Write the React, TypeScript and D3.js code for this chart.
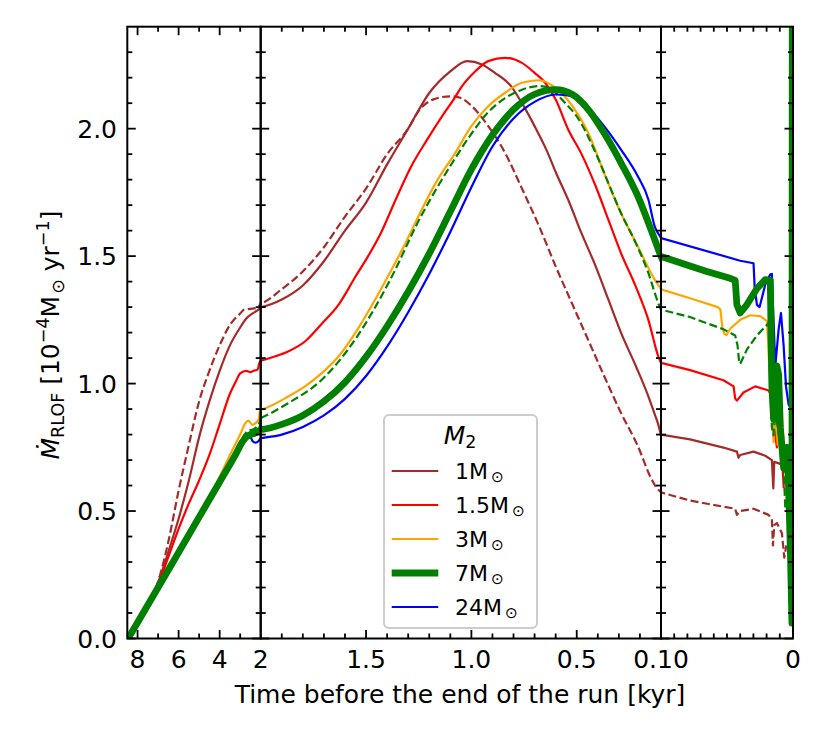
import React from "react";
import * as d3 from "d3";

type Pt = [number, number];

// ---- data: [time before end of run (kyr), Mdot (1e-4 Msun/yr)] ----
const m1Solid: Pt[] = [
  [8.46, 0], [8.0, 0.063], [7.5, 0.13], [7.2, 0.18], [7.0, 0.22], [6.5, 0.34], [6.0, 0.47], [5.5, 0.62],
  [5.0, 0.79], [4.5, 0.93], [4.0, 1.05], [3.5, 1.15], [3.0, 1.22], [2.7, 1.255], [2.4, 1.275], [2.2, 1.285],
  [2.0, 1.3], [1.9, 1.33], [1.8, 1.385], [1.7, 1.48], [1.6, 1.6], [1.5, 1.71], [1.4, 1.86], [1.3, 2.0],
  [1.2, 2.14], [1.1, 2.225], [1.02, 2.265], [0.95, 2.252], [0.89, 2.22], [0.81, 2.165], [0.76, 2.1],
  [0.7, 2.01], [0.64, 1.91], [0.6, 1.83], [0.54, 1.72], [0.48, 1.595], [0.41, 1.46], [0.35, 1.33],
  [0.29, 1.2], [0.22, 1.07], [0.16, 0.95], [0.13, 0.88], [0.113, 0.84], [0.1, 0.8],
  [0.078, 0.781], [0.0527, 0.749], [0.0425, 0.733], [0.0413, 0.709], [0.04, 0.72], [0.0299, 0.733],
  [0.021, 0.717], [0.016, 0.7], [0.0149, 0.589], [0.0142, 0.693], [0.0096, 0.685], [0.0071, 0.677],
  [0.0046, 0.669], [0.0033, 0.573],
];
const m1Dashed: Pt[] = [
  [8.46, 0], [8.0, 0.063], [7.5, 0.13], [7.2, 0.18], [6.9, 0.25], [6.5, 0.38], [6.0, 0.58], [5.5, 0.76],
  [5.0, 0.93], [4.5, 1.05], [4.0, 1.15], [3.5, 1.23], [3.0, 1.275], [2.8, 1.29], [2.5, 1.293], [2.2, 1.297],
  [2.0, 1.315], [1.9, 1.37], [1.8, 1.44], [1.7, 1.535], [1.6, 1.655], [1.5, 1.765], [1.4, 1.9], [1.3, 2.0],
  [1.25, 2.07], [1.18, 2.115], [1.1, 2.127], [1.05, 2.12], [1.0, 2.09], [0.92, 2.01], [0.84, 1.905],
  [0.76, 1.765], [0.68, 1.62], [0.6, 1.46], [0.52, 1.31], [0.445, 1.17], [0.37, 1.03], [0.29, 0.885],
  [0.21, 0.755], [0.145, 0.625], [0.12, 0.59], [0.1, 0.573],
  [0.078, 0.541], [0.0527, 0.517], [0.0438, 0.509], [0.0425, 0.485], [0.04, 0.5], [0.0299, 0.509],
  [0.0185, 0.485], [0.016, 0.469], [0.0152, 0.365], [0.0142, 0.445], [0.0122, 0.453], [0.0084, 0.413],
  [0.0066, 0.317], [0.0051, 0.365],
];
const m15: Pt[] = [
  [8.46, 0], [8.0, 0.063], [7.5, 0.13], [7.2, 0.175], [7.0, 0.21], [6.5, 0.32], [6.0, 0.43], [5.5, 0.53],
  [5.0, 0.62], [4.5, 0.72], [4.0, 0.84], [3.5, 0.96], [3.2, 1.01], [3.0, 1.04], [2.7, 1.05], [2.5, 1.045],
  [2.35, 1.05], [2.15, 1.055], [2.07, 1.08], [2.0, 1.09], [1.93, 1.107], [1.87, 1.126], [1.79, 1.165],
  [1.71, 1.235], [1.63, 1.31], [1.55, 1.42], [1.49, 1.5], [1.43, 1.59], [1.36, 1.72], [1.29, 1.845],
  [1.21, 1.957], [1.13, 2.06], [1.08, 2.12], [1.05, 2.16], [0.98, 2.226], [0.92, 2.265], [0.84, 2.278],
  [0.76, 2.258], [0.7, 2.219], [0.65, 2.18], [0.6, 2.114], [0.54, 1.996], [0.48, 1.905], [0.41, 1.774],
  [0.35, 1.643], [0.29, 1.512], [0.22, 1.381], [0.16, 1.25], [0.113, 1.107], [0.1, 1.081],
  [0.078, 1.053], [0.0527, 1.013], [0.045, 0.989], [0.0438, 0.941], [0.0425, 0.933], [0.0375, 0.965],
  [0.0286, 0.989], [0.0185, 0.973], [0.016, 0.949], [0.0142, 0.83], [0.0122, 0.75], [0.0096, 0.83],
  [0.007, 0.59],
];
const m3: Pt[] = [
  [8.46, 0], [8.0, 0.063], [7.0, 0.2], [6.0, 0.34], [5.0, 0.48], [4.2, 0.6], [3.5, 0.72], [3.0, 0.8],
  [2.75, 0.845], [2.6, 0.855], [2.4, 0.838], [2.25, 0.845], [2.1, 0.86], [2.04, 0.89], [2.0, 0.897],
  [1.87, 0.949], [1.79, 0.989], [1.71, 1.041], [1.63, 1.107], [1.55, 1.2], [1.47, 1.31], [1.39, 1.43],
  [1.31, 1.555], [1.24, 1.675], [1.16, 1.8], [1.08, 1.9], [1.0, 2.01], [0.92, 2.088], [0.84, 2.141],
  [0.76, 2.18], [0.68, 2.19], [0.6, 2.16], [0.52, 2.088], [0.445, 1.983], [0.37, 1.826], [0.29, 1.669],
  [0.21, 1.538], [0.13, 1.408], [0.1, 1.37],
  [0.078, 1.335], [0.057, 1.3], [0.055, 1.29], [0.0535, 1.22], [0.052, 1.195], [0.0505, 1.19],
  [0.0476, 1.215], [0.04, 1.25], [0.0324, 1.268], [0.0248, 1.265], [0.0197, 1.245], [0.0172, 0.99],
  [0.0147, 0.77], [0.013, 0.9], [0.0116, 0.76], [0.0096, 0.95], [0.0058, 0.685], [0.0046, 0.58],
];
const m7Dashed: Pt[] = [
  [8.46, 0], [8.0, 0.063], [7.0, 0.2], [6.0, 0.338], [5.0, 0.476], [4.0, 0.614], [3.0, 0.765],
  [2.86, 0.79], [2.6, 0.815], [2.37, 0.82], [2.2, 0.83], [2.05, 0.85], [2.0, 0.865],
  [1.87, 0.923], [1.71, 1.015], [1.55, 1.175], [1.39, 1.4], [1.24, 1.655], [1.08, 1.88], [1.0, 1.98],
  [0.92, 2.065], [0.84, 2.12], [0.76, 2.153], [0.68, 2.167], [0.62, 2.155], [0.57, 2.114], [0.49, 2.036],
  [0.41, 1.905], [0.35, 1.787], [0.29, 1.669], [0.22, 1.552], [0.16, 1.434], [0.113, 1.316], [0.1, 1.29],
  [0.078, 1.261], [0.0527, 1.213], [0.0438, 1.189], [0.042, 1.149], [0.0408, 1.085], [0.04, 1.077],
  [0.035, 1.133], [0.0273, 1.189], [0.0185, 1.237], [0.0172, 0.989], [0.016, 0.829], [0.0147, 0.797],
  [0.0134, 0.893], [0.0071, 0.669], [0.0058, 0.509], [0.0046, 0.541],
];
const m7Solid: Pt[] = [
  [8.46, 0], [8.0, 0.063], [7.0, 0.2], [6.0, 0.338], [5.0, 0.476], [4.0, 0.614], [3.2, 0.725], [2.9, 0.77],
  [2.7, 0.79], [2.5, 0.8], [2.3, 0.805], [2.15, 0.812], [2.0, 0.819],
  [1.9, 0.84], [1.8, 0.875], [1.7, 0.93], [1.6, 1.005], [1.5, 1.105], [1.4, 1.225], [1.3, 1.36],
  [1.2, 1.51], [1.1, 1.675], [1.0, 1.84], [0.9, 1.975], [0.8, 2.075], [0.7, 2.135], [0.6, 2.153],
  [0.52, 2.134], [0.445, 2.075], [0.37, 1.983], [0.29, 1.866], [0.21, 1.735], [0.13, 1.565], [0.1, 1.499],
  [0.078, 1.461], [0.0653, 1.44], [0.0476, 1.413], [0.0438, 1.405], [0.0425, 1.309], [0.04, 1.277],
  [0.035, 1.309], [0.0273, 1.373], [0.021, 1.408], [0.0172, 1.405], [0.016, 0.989], [0.0147, 0.861],
  [0.0122, 1.069], [0.0109, 1.037], [0.0096, 0.829], [0.0071, 0.669], [0.0046, 0.75], [0.0033, 0.589],
  [0.002, 0.349], [0.0008, 0.06], [0.0005, 3.0],
];
const m24: Pt[] = [
  [8.46, 0], [8.0, 0.063], [7.0, 0.2], [6.0, 0.338], [5.0, 0.476], [4.0, 0.614], [3.2, 0.725], [2.9, 0.77],
  [2.7, 0.785], [2.5, 0.79], [2.4, 0.775], [2.25, 0.768], [2.1, 0.775], [2.0, 0.786],
  [1.9, 0.8], [1.8, 0.83], [1.7, 0.875], [1.6, 0.94], [1.5, 1.03], [1.4, 1.145], [1.3, 1.28],
  [1.2, 1.43], [1.1, 1.595], [1.0, 1.77], [0.9, 1.93], [0.8, 2.04], [0.7, 2.105], [0.6, 2.134],
  [0.52, 2.127], [0.445, 2.082], [0.37, 2.01], [0.29, 1.918], [0.21, 1.813], [0.16, 1.722], [0.13, 1.617],
  [0.1, 1.571],
  [0.04, 1.482], [0.0299, 1.472], [0.029, 1.373], [0.0273, 1.309], [0.0253, 1.3], [0.021, 1.389],
  [0.0172, 1.429], [0.016, 1.43], [0.0152, 1.309], [0.0134, 1.069], [0.0109, 1.213], [0.0091, 1.277],
  [0.0071, 1.149], [0.0053, 0.989], [0.0033, 0.917], [0.002, 0.909], [0.0015, 0.83],
];

const legendLabels = ["1", "1.5", "3", "7", "24"];
const yMajor = [0, 0.5, 1.0, 1.5, 2.0];
const yMajorLabels = ["0.0", "0.5", "1.0", "1.5", "2.0"];
const yMinor = [0.1, 0.2, 0.3, 0.4, 0.6, 0.7, 0.8, 0.9, 1.1, 1.2, 1.3, 1.4, 1.6, 1.7, 1.8, 1.9, 2.1, 2.2, 2.3];
const panelDomains: [number, number][] = [[8.5, 2], [2, 0.1], [0.1, 0]];
const xMajor: number[][] = [[8, 6, 4], [1.5, 1.0, 0.5], []];
const xMinor: number[][] = [
  [7, 5, 3],
  [1.9, 1.8, 1.7, 1.6, 1.4, 1.3, 1.2, 1.1, 0.9, 0.8, 0.7, 0.6, 0.4, 0.3, 0.2],
  [0.09, 0.08, 0.07, 0.06, 0.05, 0.04, 0.03, 0.02, 0.01],
];
const xTickLabels: { v: number; s: string }[][] = [
  [{ v: 8, s: "8" }, { v: 6, s: "6" }, { v: 4, s: "4" }, { v: 2, s: "2" }],
  [{ v: 1.5, s: "1.5" }, { v: 1.0, s: "1.0" }, { v: 0.5, s: "0.5" }],
  [{ v: 0.1, s: "0.10" }, { v: 0, s: "0" }],
];

// ---- layout ----
const W = 830, H = 738;
const XB = [127.3, 260.7, 661, 793];
const YT = 26.7, YB = 638.5;
const FONT = "DejaVu Sans";
const FS = 25;
const LFS = 22;
const MAJ = 8.5, MIN = 5;

const styles = [
  { data: m1Solid, color: "#a52a2a", w: 2.2, dash: "" },
  { data: m1Dashed, color: "#a52a2a", w: 2.2, dash: "8,3.5" },
  { data: m15, color: "#ff0000", w: 2.2, dash: "" },
  { data: m3, color: "#ffa500", w: 2.2, dash: "" },
  { data: m7Dashed, color: "#008000", w: 2.2, dash: "8,3.5" },
  { data: m24, color: "#0000ff", w: 2.2, dash: "" },
  { data: m7Solid, color: "#008000", w: 6.8, dash: "" },
];
const legendStyles = [
  { color: "#a52a2a", w: 2.2 },
  { color: "#ff0000", w: 2.2 },
  { color: "#ffa500", w: 2.2 },
  { color: "#008000", w: 6.8 },
  { color: "#0000ff", w: 2.2 },
];

function sliceFor(data: Pt[], dom: [number, number]): Pt[] {
  const hi = Math.max(dom[0], dom[1]), lo = Math.min(dom[0], dom[1]);
  let a = -1, b = -1;
  data.forEach((p, i) => {
    if (p[0] <= hi + 1e-9 && p[0] >= lo - 1e-9) {
      if (a < 0) a = i;
      b = i;
    }
  });
  if (a < 0) return [];
  return data.slice(Math.max(0, a - 1), Math.min(data.length, b + 2));
}

export default function App() {
  const y = d3.scaleLinear().domain([0, 2.4]).range([YB, YT]);
  const panels = panelDomains.map((dom, i) =>
    d3.scaleLinear().domain(dom).range([XB[i], XB[i + 1]])
  );

  return (
    <svg
      width={W}
      height={H}
      viewBox={`0 0 ${W} ${H}`}
      style={{ display: "block", position: "absolute", left: 0, top: 0 }}
      fontFamily={FONT}
    >
      <rect width={W} height={H} fill="#fff" />
      <defs>
        {panels.map((_, i) => (
          <clipPath id={`clip${i}`} key={i}>
            <rect x={XB[i]} y={YT} width={XB[i + 1] - XB[i]} height={YB - YT} />
          </clipPath>
        ))}
      </defs>
      {panels.map((x, i) => {
        const line = d3
          .line<Pt>()
          .x((d) => x(d[0]))
          .y((d) => y(d[1]))
          .curve(i === 2 ? d3.curveLinear : d3.curveMonotoneX);
        return (
          <g key={`p${i}`}>
            <g clipPath={`url(#clip${i})`}>
              {styles.map((s, k) => {
                const pts = sliceFor(s.data, panelDomains[i]);
                if (!pts.length) return null;
                return (
                  <path
                    key={k}
                    d={line(pts) || ""}
                    fill="none"
                    stroke={s.color}
                    strokeWidth={s.w}
                    strokeDasharray={s.dash || undefined}
                    strokeLinejoin="round"
                  />
                );
              })}
            </g>
            {yMajor.concat(yMinor).map((v, k) => {
              const len = k < yMajor.length ? MAJ : MIN;
              return (
                <g key={`yt${k}`} stroke="#000" strokeWidth={1.8}>
                  <line x1={XB[i]} x2={XB[i] + len} y1={y(v)} y2={y(v)} />
                  <line x1={XB[i + 1]} x2={XB[i + 1] - len} y1={y(v)} y2={y(v)} />
                </g>
              );
            })}
            {xMajor[i].map((v) => ({ v, len: MAJ })).concat(xMinor[i].map((v) => ({ v, len: MIN }))).map((t, k) => (
              <g key={`xt${k}`} stroke="#000" strokeWidth={1.8}>
                <line x1={x(t.v)} x2={x(t.v)} y1={YB} y2={YB - t.len} />
                <line x1={x(t.v)} x2={x(t.v)} y1={YT} y2={YT + t.len} />
              </g>
            ))}
            <rect
              x={XB[i]}
              y={YT}
              width={XB[i + 1] - XB[i]}
              height={YB - YT}
              fill="none"
              stroke="#000"
              strokeWidth={2}
            />
            {xTickLabels[i].map((t, k) => (
              <text key={`xl${k}`} x={x(t.v)} y={668} fontSize={FS} textAnchor="middle" fill="#000">
                {t.s}
              </text>
            ))}
          </g>
        );
      })}
      {yMajor.map((v, k) => (
        <text key={`yl${k}`} x={117} y={y(v) + 9.2} fontSize={FS} textAnchor="end" fill="#000">
          {yMajorLabels[k]}
        </text>
      ))}
      <text x={460} y={703} fontSize={FS} textAnchor="middle" fill="#000">
        Time before the end of the run [kyr]
      </text>
      <text transform="translate(59,335) rotate(-90)" fontSize={FS} textAnchor="middle" fill="#000">
        <tspan fontStyle="italic">{"\u1E40"}</tspan>
        <tspan fontSize={FS * 0.7} dy={5}>RLOF</tspan>
        <tspan dy={-5}>{" [10"}</tspan>
        <tspan fontSize={FS * 0.7} dy={-10}>{"\u22124"}</tspan>
        <tspan dy={10}>M</tspan>
        <tspan fontSize={FS * 0.7} dy={5} dx={2}>{"\u2299"}</tspan>
        <tspan dy={-5}>{" yr"}</tspan>
        <tspan fontSize={FS * 0.7} dy={-10}>{"\u22121"}</tspan>
        <tspan dy={10}>]</tspan>
      </text>
      <g>
        <rect x={384} y={415} width={153} height={213} rx={5} fill="#fff" fillOpacity={0.8} stroke="#cccccc" strokeWidth={2} />
        <text x={460} y={444} fontSize={25} textAnchor="middle" fill="#000">
          <tspan fontStyle="italic">M</tspan>
          <tspan fontSize={25 * 0.7} dy={4}>2</tspan>
        </text>
        {legendLabels.map((lab, k) => {
          const cy = 471 + k * 34;
          return (
            <g key={`lg${k}`}>
              <line x1={391.7} x2={438.3} y1={cy} y2={cy} stroke={legendStyles[k].color} strokeWidth={legendStyles[k].w} />
              <text x={455} y={cy + 7.8} fontSize={LFS} fill="#000">
                <tspan>{lab}M</tspan>
                <tspan fontSize={LFS * 0.7} dy={3} dx={3}>{"\u2299"}</tspan>
              </text>
            </g>
          );
        })}
      </g>
    </svg>
  );
}
